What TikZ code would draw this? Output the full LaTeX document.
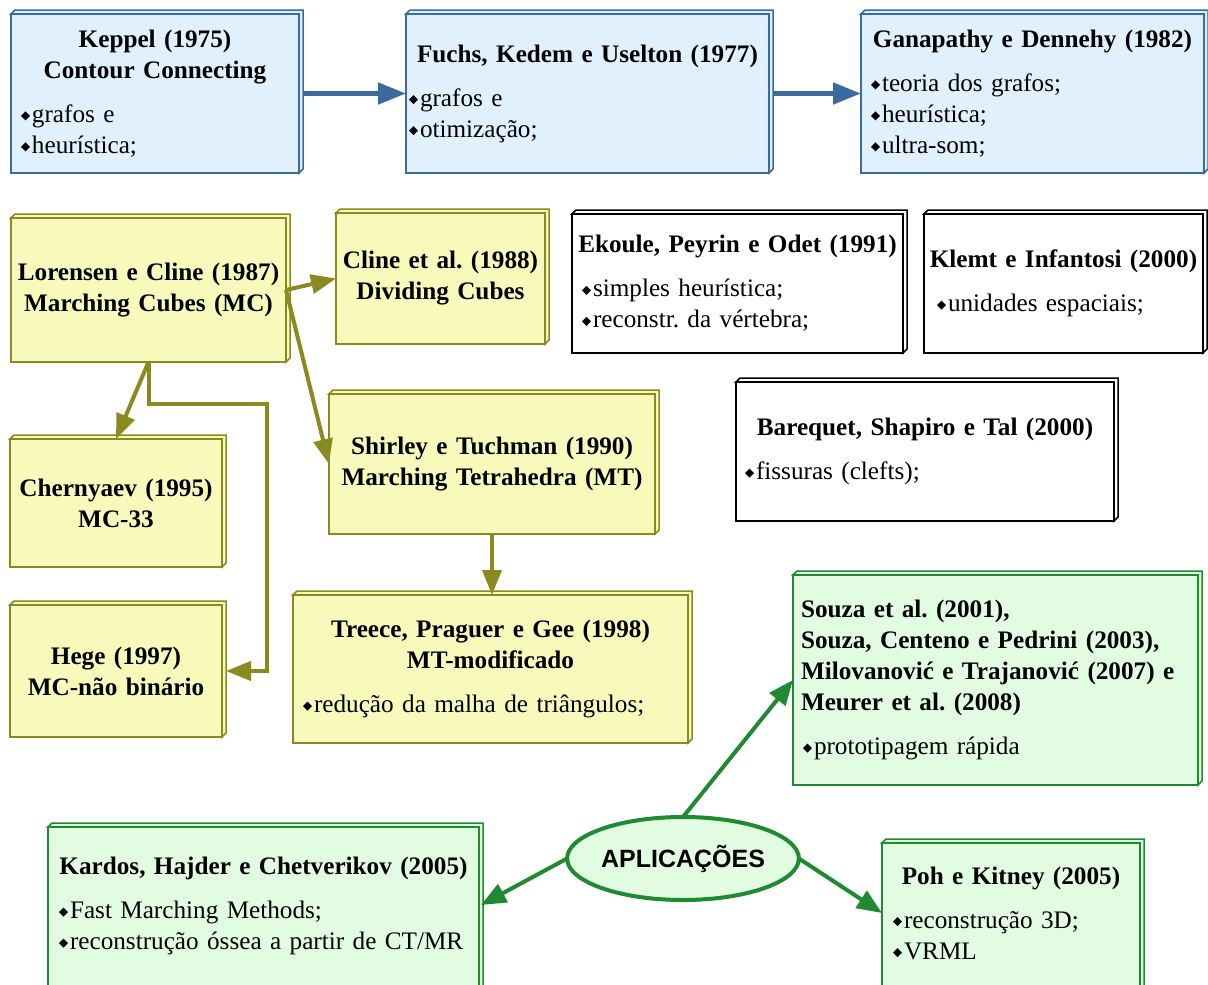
\documentclass[tikz,border=0pt]{standalone}
\usepackage{fontspec}
\setmainfont{Liberation Serif}[WordSpace=0.8]
\newfontfamily\apfont{Liberation Sans}
\usetikzlibrary{arrows.meta,shapes.geometric}

\definecolor{bluefill}{HTML}{E0F0FC}
\definecolor{blueline}{HTML}{3B6A9E}
\definecolor{yelfill}{HTML}{F7FABB}
\definecolor{oliveline}{HTML}{8A8A1E}
\definecolor{grnfill}{HTML}{E2FCE2}
\definecolor{grnline}{HTML}{1F8A31}

% small black diamond used as list bullet
\newcommand{\bl}{\tikz[baseline=0pt,x=1pt,y=1pt]\fill (0,6.5)--(4.5,11)--(9,6.5)--(4.5,2)--cycle;\hspace{2pt}}
% centred bold heading, left-aligned bold heading, bullet list
\newcommand{\ttl}[1]{{\centering\bfseries #1\par}}
\newcommand{\ttll}[1]{{\raggedright\leftskip=3pt\bfseries #1\par}}
\newcommand{\lst}[2][5pt]{\vspace{13pt}{\raggedright\leftskip=#1 #2\par}}
% empty space kept below the text of a box
\newcommand{\padbelow}[1]{\par\vspace{#1}\hrule height 0pt}

\tikzset{
  card/.style={rectangle, line width=2.5pt, outer sep=0pt, inner xsep=5pt, inner ysep=0pt,
    font=\fontsize{25.2}{31}\selectfont\frenchspacing},
  bluecard/.style={card, draw=blueline, fill=bluefill},
  yelcard/.style={card, draw=oliveline, fill=yelfill},
  whitecard/.style={card, draw=black, fill=white},
  grncard/.style={card, draw=grnline, fill=grnfill},
  bluearrow/.style={line width=5pt, draw=blueline, -{Triangle[length=28pt,width=21pt]}},
  olivearrow/.style={line width=4pt, draw=oliveline, -{Triangle[length=25pt,width=19pt]}},
  grnarrow/.style={line width=4pt, draw=grnline, -{Triangle[length=25pt,width=20pt]}},
}

\begin{document}
\begin{tikzpicture}[x=1pt,y=-1pt]
\useasboundingbox (0,0) rectangle (1208,985);

% --- first row: contour connecting methods
\node[bluecard, minimum width=288pt, minimum height=159pt, text width=278pt] (kep) at (155,93.5)
  {\ttl{Keppel (1975)\\Contour Connecting}\lst{\bl grafos e\\\bl heurística;}};
\node[bluecard, minimum width=363pt, minimum height=159pt, text width=353pt] (fuc) at (587.5,93.5)
  {\ttl{Fuchs, Kedem e Uselton (1977)}\lst[-2pt]{\bl grafos e\\\bl otimização;}};
\node[bluecard, minimum width=343pt, minimum height=159pt, text width=333pt] (gan) at (1032.5,93.5)
  {\ttl{Ganapathy e Dennehy (1982)}\lst{\bl teoria dos grafos;\\\bl heurística;\\\bl ultra-som;}};

% --- marching cubes family
\node[yelcard, minimum width=275pt, minimum height=144pt, text width=265pt] (lor) at (148.5,290)
  {\ttl{Lorensen e Cline (1987)\\Marching Cubes (MC)}};
\node[yelcard, minimum width=209pt, minimum height=131pt, text width=199pt] (cli) at (440.5,278.5)
  {\ttl{Cline et al. (1988)\\Dividing Cubes}};
\node[yelcard, minimum width=326pt, minimum height=140pt, text width=316pt] (shi) at (492,464)
  {\ttl{Shirley e Tuchman (1990)\\Marching Tetrahedra (MT)}};
\node[yelcard, minimum width=212pt, minimum height=128pt, text width=202pt] (che) at (116,503)
  {\ttl{Chernyaev (1995)\\MC-33}};
\node[yelcard, minimum width=212pt, minimum height=132pt, text width=202pt] (heg) at (116,671)
  {\ttl{Hege (1997)\\MC-não binário}};
\node[yelcard, minimum width=395pt, minimum height=148pt, text width=385pt] (tre) at (490.5,669)
  {\ttl{Treece, Praguer e Gee (1998)\\MT-modificado}\lst{\bl redução da malha de triângulos;}};

% --- other methods
\node[whitecard, minimum width=331pt, minimum height=139pt, text width=321pt] (eko) at (737.5,283.5)
  {\ttl{Ekoule, Peyrin e Odet (1991)}\lst{\bl simples heurística;\\\bl reconstr. da vértebra;}};
\node[whitecard, minimum width=279pt, minimum height=139pt, text width=269pt] (kle) at (1063.5,283.5)
  {\ttl{Klemt e Infantosi (2000)}\lst[8pt]{\bl unidades espaciais;}};
\node[whitecard, minimum width=378pt, minimum height=139pt, text width=368pt] (bar) at (925,451.5)
  {\ttl{Barequet, Shapiro e Tal (2000)}\lst[4pt]{\bl fissuras (clefts);}};

% --- applications
\node[grncard, minimum width=405pt, minimum height=210pt, text width=395pt] (sou) at (995.5,680)
  {\ttll{Souza et al. (2001),\\Souza, Centeno e Pedrini (2003),\\Milovanović e Trajanović (2007) e\\Meurer et al. (2008)}\lst{\bl prototipagem rápida}};
\node[grncard, minimum width=431pt, minimum height=180pt, text width=421pt] (kar) at (263.5,917)
  {\ttl{Kardos, Hajder e Chetverikov (2005)}\lst[6pt]{\bl Fast Marching Methods;\\\bl reconstrução óssea a partir de CT/MR}\padbelow{22pt}};
\node[grncard, minimum width=258pt, minimum height=160pt, text width=248pt] (poh) at (1011,923)
  {\ttl{Poh e Kitney (2005)}\lst[6pt]{\bl reconstrução 3D;\\\bl VRML}\padbelow{20pt}};

\node[ellipse, draw=grnline, fill=grnfill, line width=4pt, minimum width=216pt, minimum height=83pt,
  inner sep=0pt, outer sep=0pt] (app) at (683,858.5)
  {\apfont\bfseries\fontsize{25}{30}\selectfont APLICAÇÕES};

% --- raised top and right faces of the boxes
\foreach \n/\c/\f in {kep/blueline/bluefill, fuc/blueline/bluefill, gan/blueline/bluefill,
    lor/oliveline/yelfill, cli/oliveline/yelfill, shi/oliveline/yelfill, che/oliveline/yelfill,
    heg/oliveline/yelfill, tre/oliveline/yelfill,
    eko/black/white, kle/black/white, bar/black/white,
    sou/grnline/grnfill, kar/grnline/grnfill, poh/grnline/grnfill}{
  \draw[line width=1.5pt, draw=\c, fill=\f, line join=miter]
    (\n.north west) -- ++(4,-4) -- ([shift={(4,-4)}]\n.north east)
    -- ([shift={(4,-4)}]\n.south east) -- (\n.south east) -- (\n.north east) -- cycle;
  \draw[line width=2.5pt, draw=\c] (\n.north west) -- (\n.north east) -- (\n.south east);
}

% --- connectors
\draw[bluearrow] ([xshift=4pt]kep.east) -- (fuc.west);
\draw[bluearrow] ([xshift=4pt]fuc.east) -- (gan.west);

\draw[olivearrow] (lor.east) -- (cli.west);
\draw[olivearrow] (lor.east) -- (shi.west);
\draw[olivearrow] (lor.south) -- (che.north);
\draw[olivearrow, line join=miter] (lor.south) |- (267,404) |- ([xshift=4pt]heg.east);
\draw[olivearrow] (shi.south) -- (shi.south |- tre.north);

\draw[grnarrow] (app.north) -- (sou.west);
\draw[grnarrow] (app.west) -- ([xshift=2pt,yshift=12pt]kar.east);
\draw[grnarrow] (app.east) -- ([yshift=10pt]poh.west);
\end{tikzpicture}
\end{document}
